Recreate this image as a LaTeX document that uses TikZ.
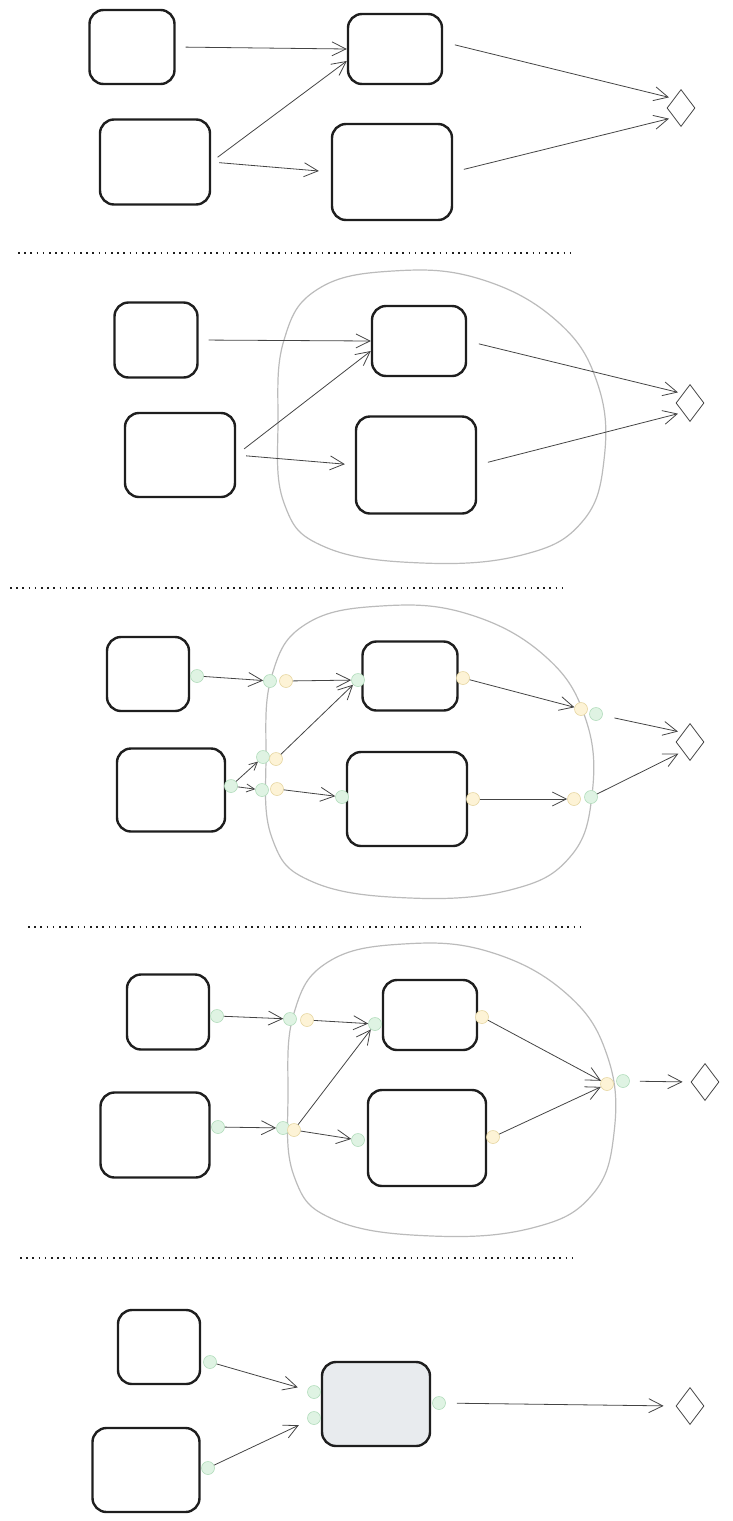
\documentclass[tikz,border=0pt]{standalone}
\usepackage{tikz}
\usetikzlibrary{arrows.meta}
\usetikzlibrary{shapes.geometric}
\definecolor{inkblk}{HTML}{1E1E1E}
\definecolor{inkarr}{HTML}{444444}
\definecolor{portgreen}{HTML}{DFF3E3}
\definecolor{portgreenline}{HTML}{B2DDBC}
\definecolor{portyellow}{HTML}{FDF3D6}
\definecolor{portyellowline}{HTML}{E6D6A2}
\definecolor{fillgray}{HTML}{E8EBEE}
\definecolor{blobgray}{HTML}{BBBBBB}
\tikzset{blk/.style={draw=inkblk,line width=2.4pt,rounded corners=14pt,inner sep=0pt}}
\tikzset{goal/.style={draw=inkarr,diamond,aspect=0.75,line width=0.8pt,minimum width=28pt,minimum height=37pt,inner sep=0pt}}
\tikzset{arr/.style={draw=inkarr,line width=0.8pt,-{Straight Barb[length=14pt,width=14pt]}}}
\tikzset{arrsmall/.style={draw=inkarr,line width=0.8pt,-{Straight Barb[length=8pt,width=8pt]}}}
\tikzset{gport/.style={circle,draw=portgreenline,fill=portgreen,line width=0.6pt,minimum size=13pt,inner sep=0pt}}
\tikzset{yport/.style={circle,draw=portyellowline,fill=portyellow,line width=0.6pt,minimum size=13pt,inner sep=0pt}}
\tikzset{blob/.style={draw=blobgray,line width=1.2pt}}
\tikzset{sep/.style={draw=inkblk,line width=1.6pt,dash pattern=on 1.6pt off 4.6pt}}
\newcommand{\groupblob}[1]{\draw[blob,shift={#1}] plot[smooth cycle,tension=0.7] coordinates {(393,271) (480,279) (558,322) (598,385) (604,460) (582,522) (522,555) (422,563) (325,547) (284,503) (278,420) (284,340) (318,289)};}

\begin{document}
\begin{tikzpicture}[x=1pt,y=-1pt]
  \useasboundingbox (0,0) rectangle (732,1521);

  % Panel 1
  \node[blk,minimum width=85,minimum height=74] (a1) at (132,47) {};
  \node[blk,minimum width=110,minimum height=85] (b1) at (155,162) {};
  \node[blk,minimum width=94,minimum height=70] (c1) at (395,49) {};
  \node[blk,minimum width=120,minimum height=96] (d1) at (392,172) {};
  \node[goal] (e1) at (681,108) {};
  \draw[arr,shorten <=10pt] (a1.east) -- (c1.west);
  \draw[arr,shorten <=8pt] (b1.east) -- ([yshift=-12pt]c1.west);
  \draw[arr,shorten <=8pt,shorten >=12pt] (b1.east) -- (d1.west);
  \draw[arr,shorten <=12pt,shorten >=5pt] ([yshift=7pt]c1.east) -- (e1.north west);
  \draw[arr,shorten <=11pt,shorten >=5pt] (d1.east) -- (e1.south west);

  \draw[sep] (18,253) -- (572,253);

  % Panel 2
  \groupblob{(0,0)}
  \node[blk,minimum width=83,minimum height=75] (a2) at (156,340) {};
  \node[blk,minimum width=110,minimum height=84] (b2) at (180,455) {};
  \node[blk,minimum width=94,minimum height=70] (c2) at (419,341) {};
  \node[blk,minimum width=120,minimum height=97] (d2) at (416,465) {};
  \node[goal] (e2) at (690,403) {};
  \draw[arr,shorten <=10pt] (a2.east) -- (c2.west);
  \draw[arr,shorten <=10pt] (b2.east) -- ([yshift=-10pt]c2.west);
  \draw[arr,shorten <=10pt,shorten >=10pt] (b2.east) -- (d2.west);
  \draw[arr,shorten <=12pt,shorten >=5pt] (c2.east) -- (e2.north west);
  \draw[arr,shorten <=11pt,shorten >=5pt] (d2.east) -- (e2.south west);

  \draw[sep] (10,588) -- (565,588);

  % Panel 3
  \groupblob{(-12,335)}
  \node[blk,minimum width=82,minimum height=74] (a3) at (148,674) {};
  \node[blk,minimum width=108,minimum height=83] (b3) at (171,790) {};
  \node[blk,minimum width=95,minimum height=69] (c3) at (410,676) {};
  \node[blk,minimum width=120,minimum height=94] (d3) at (407,799) {};
  \node[goal] (e3) at (690,742) {};
  % ports
  \node[gport] (pa3) at (197,676) {};
  \node[gport] (pi3) at (270,681) {};
  \node[yport] (qi3) at (286,681) {};
  \node[gport] (pc3) at (358,680) {};
  \node[yport] (qc3) at (463,678) {};
  \node[yport] (qo3) at (581,709) {};
  \node[gport] (po3) at (596,714) {};
  \node[gport] (pb3) at (231,786) {};
  \node[gport] (pj3) at (263,757) {};
  \node[yport] (qj3) at (276,759) {};
  \node[gport] (pk3) at (262,790) {};
  \node[yport] (qk3) at (277,789) {};
  \node[gport] (pd3) at (342,797) {};
  \node[yport] (qd3) at (473,799) {};
  \node[yport] (qp3) at (574,799) {};
  \node[gport] (pp3) at (591,797) {};
  \draw[arr] (pa3) -- (pi3);
  \draw[arr] (qi3) -- (pc3);
  \draw[arr] (qj3) -- (pc3);
  \draw[arrsmall] (pb3) -- (pj3);
  \draw[arrsmall] (pb3) -- (pk3);
  \draw[arr] (qk3) -- (pd3);
  \draw[arr] (qc3) -- (qo3);
  \draw[arr] (qd3) -- (qp3);
  \draw[arr,shorten <=12pt,shorten >=5pt] (po3) -- (e3.north west);
  \draw[arr,shorten >=5pt] (pp3) -- (e3.south west);

  \draw[sep] (28,927) -- (585,927);

  % Panel 4
  \groupblob{(10,673)}
  \node[blk,minimum width=82,minimum height=75] (a4) at (168,1012) {};
  \node[blk,minimum width=109,minimum height=85] (b4) at (155,1135) {};
  \node[blk,minimum width=94,minimum height=70] (c4) at (430,1015) {};
  \node[blk,minimum width=118,minimum height=96] (d4) at (427,1138) {};
  \node[goal] (e4) at (705,1082) {};
  % ports
  \node[gport] (pa4) at (217,1016) {};
  \node[gport] (pi4) at (290,1019) {};
  \node[yport] (qi4) at (307,1020) {};
  \node[gport] (pc4) at (375,1024) {};
  \node[yport] (qc4) at (482,1017) {};
  \node[yport] (qm4) at (607,1084) {};
  \node[gport] (pm4) at (623,1081) {};
  \node[gport] (pb4) at (218,1127) {};
  \node[gport] (pj4) at (283,1128) {};
  \node[yport] (qj4) at (294,1130) {};
  \node[gport] (pd4) at (358,1140) {};
  \node[yport] (qd4) at (493,1137) {};
  \draw[arr] (pa4) -- (pi4);
  \draw[arr] (qi4) -- (pc4);
  \draw[arr] (qj4) -- (pc4);
  \draw[arr] (qj4) -- (pd4);
  \draw[arr] (pb4) -- (pj4);
  \draw[arr] (qc4) -- (qm4);
  \draw[arr] (qd4) -- (qm4);
  \draw[arr,shorten <=10pt,shorten >=8pt] (pm4) -- (e4.west);

  \draw[sep] (20,1258) -- (575,1258);

  % Panel 5
  \node[blk,minimum width=82,minimum height=74] (a5) at (159,1347) {};
  \node[blk,minimum width=107,minimum height=84] (b5) at (146,1470) {};
  \node[blk,fill=fillgray,minimum width=108,minimum height=84] (g5) at (376,1404) {};
  \node[goal] (e5) at (690,1406) {};
  % ports
  \node[gport] (pa5) at (210,1362) {};
  \node[gport] (pb5) at (208,1468) {};
  \node[gport] (pg5a) at (314,1392) {};
  \node[gport] (pg5b) at (314,1418) {};
  \node[gport] (qg5) at (439,1403) {};
  \draw[arr,shorten >=10pt] (pa5) -- (pg5a);
  \draw[arr,shorten >=10pt] (pb5) -- (pg5b);
  \draw[arr,shorten <=11pt,shorten >=12pt] (qg5) -- (e5.west);
\end{tikzpicture}
\end{document}
